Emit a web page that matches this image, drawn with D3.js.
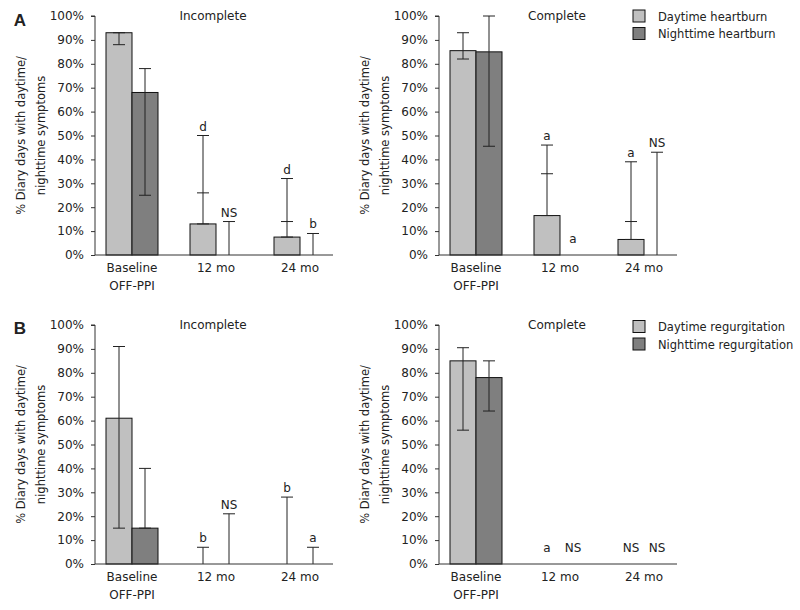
<!DOCTYPE html>
<html>
<head>
<meta charset="utf-8">
<script src="https://cdn.jsdelivr.net/npm/d3@7"></script>
<style>
  body { margin: 0; background: #fff; }
  svg text { font-family: "DejaVu Sans", sans-serif; fill: #222; }
</style>
</head>
<body>
<svg id="chart" width="800" height="610"></svg>
<script>
// ---------- data ----------
const categories = ["Baseline|OFF-PPI", "12 mo", "24 mo"];
const yTicks = [0, 10, 20, 30, 40, 50, 60, 70, 80, 90, 100];
const yTitle = ["% Diary days with daytime/", "nighttime symptoms"];

// A, Incomplete (heartburn)
const hbIncDay = [93, 13, 7.5];
const hbIncDayErr = [[88, 93], [13, 50], [7.5, 32]];
const hbIncDayMid = [null, 26, 14];
const hbIncDayMark = ["", "d", "d"];
const hbIncNight = [68, 0, 0];
const hbIncNightErr = [[25, 78], [0, 14], [0, 9]];
const hbIncNightMid = [null, null, null];
const hbIncNightMark = ["", "NS", "b"];

// A, Complete (heartburn)
const hbComDay = [85.5, 16.5, 6.5];
const hbComDayErr = [[82, 93], [16.5, 46], [6.5, 39]];
const hbComDayMid = [null, 34, 14];
const hbComDayMark = ["", "a", "a"];
const hbComNight = [85, 0, 0];
const hbComNightErr = [[45.5, 100], null, [0, 43]];
const hbComNightMid = [null, null, null];
const hbComNightMark = ["", "a", "NS"];

// B, Incomplete (regurgitation)
const rgIncDay = [61, 0, 0];
const rgIncDayErr = [[15, 91], [0, 7], [0, 28]];
const rgIncDayMid = [null, null, null];
const rgIncDayMark = ["", "b", "b"];
const rgIncNight = [15, 0, 0];
const rgIncNightErr = [[15, 40], [0, 21], [0, 7]];
const rgIncNightMid = [null, null, null];
const rgIncNightMark = ["", "NS", "a"];

// B, Complete (regurgitation)
const rgComDay = [85, 0, 0];
const rgComDayErr = [[56, 90.5], null, null];
const rgComDayMid = [null, null, null];
const rgComDayMark = ["", "a", "NS"];
const rgComNight = [78, 0, 0];
const rgComNightErr = [[64, 85], null, null];
const rgComNightMid = [null, null, null];
const rgComNightMark = ["", "NS", "NS"];

const legendA = ["Daytime heartburn", "Nighttime heartburn"];
const legendB = ["Daytime regurgitation", "Nighttime regurgitation"];
const colors = ["#c0c0c0", "#7f7f7f"];

// ---------- drawing ----------
const svg = d3.select("#chart");
const W = 238, H = 239, barW = 26;

function panel(ax, top, title, series) {
  const g = svg.append("g");
  const y = d3.scaleLinear().domain([0, 100]).range([top + H, top]);
  const x = d3.scalePoint().domain(categories).range([ax + 37, ax + 205]);

  // y axis
  const yAxis = d3.axisLeft(y).tickValues(yTicks).tickFormat(d => d + "%").tickSize(4).tickPadding(7);
  const ya = g.append("g").attr("transform", `translate(${ax},0)`).call(yAxis);
  ya.attr("font-family", null);
  ya.select(".domain").attr("stroke", "#333").attr("d", `M-4,${y(100)}H0V${y(0)}`);
  ya.selectAll(".tick line").attr("stroke", "#333");
  ya.selectAll(".tick text").style("font-size", "12px").attr("fill", "#222");

  // y title
  yTitle.forEach((t, i) => {
    g.append("text")
      .attr("transform", `translate(${ax - 70 + i * 20},${(y(0) + y(100)) / 2}) rotate(-90)`)
      .attr("text-anchor", "middle")
      .style("font-size", "11.5px")
      .text(t);
  });

  // title
  g.append("text").attr("x", ax + 118).attr("y", top + 4)
    .attr("text-anchor", "middle").style("font-size", "12px").text(title);

  // bars
  series.forEach((s, si) => {
    const off = si === 0 ? -barW / 2 : barW / 2;
    categories.forEach((c, i) => {
      const cx = x(c) + off;
      const v = s.vals[i];
      if (v > 0) {
        g.append("rect")
          .attr("x", cx - barW / 2).attr("y", y(v))
          .attr("width", barW).attr("height", y(0) - y(v))
          .attr("fill", colors[si]).attr("stroke", "#111").attr("stroke-width", 1);
      }
    });
  });

  // error bars and marks
  series.forEach((s, si) => {
    const off = si === 0 ? -barW / 2 : barW / 2;
    categories.forEach((c, i) => {
      const cx = x(c) + off;
      const e = s.err[i];
      let topY = y(0);
      if (e) {
        g.append("line").attr("x1", cx).attr("x2", cx)
          .attr("y1", y(e[0])).attr("y2", y(e[1]))
          .attr("stroke", "#222").attr("stroke-width", 1);
        [e[0], e[1]].forEach(v => {
          if (v > 0) g.append("line").attr("x1", cx - 6).attr("x2", cx + 6)
            .attr("y1", y(v)).attr("y2", y(v)).attr("stroke", "#222").attr("stroke-width", 1);
        });
        topY = y(e[1]);
      }
      if (s.mid[i] != null) {
        g.append("line").attr("x1", cx - 6).attr("x2", cx + 6)
          .attr("y1", y(s.mid[i])).attr("y2", y(s.mid[i])).attr("stroke", "#222").attr("stroke-width", 1);
      }
      if (s.mark[i]) {
        g.append("text").attr("x", cx).attr("y", e ? topY - 5 : y(0) - 12)
          .attr("text-anchor", "middle").style("font-size", "12px").text(s.mark[i]);
      }
    });
  });

  // x axis line
  g.append("line").attr("x1", ax).attr("x2", ax + W)
    .attr("y1", y(0)).attr("y2", y(0)).attr("stroke", "#333");

  // category labels
  categories.forEach(c => {
    const t = g.append("text").attr("x", x(c)).attr("y", y(0) + 17)
      .attr("text-anchor", "middle").style("font-size", "12px");
    c.split("|").forEach((ln, li) => {
      t.append("tspan").attr("x", x(c)).attr("dy", li === 0 ? 0 : 18).text(ln);
    });
  });
}

function legend(lx, ly, labels) {
  labels.forEach((l, i) => {
    svg.append("rect").attr("x", lx).attr("y", ly + i * 17.5).attr("width", 12).attr("height", 12)
      .attr("fill", colors[i]).attr("stroke", "#111");
    svg.append("text").attr("x", lx + 25).attr("y", ly + i * 17.5 + 10.5)
      .style("font-size", "11.5px").text(l);
  });
}

function mk(vals, err, mid, mark) { return { vals, err, mid, mark }; }

panel(95, 16, "Incomplete", [mk(hbIncDay, hbIncDayErr, hbIncDayMid, hbIncDayMark), mk(hbIncNight, hbIncNightErr, hbIncNightMid, hbIncNightMark)]);
panel(439, 16, "Complete", [mk(hbComDay, hbComDayErr, hbComDayMid, hbComDayMark), mk(hbComNight, hbComNightErr, hbComNightMid, hbComNightMark)]);
panel(95, 325, "Incomplete", [mk(rgIncDay, rgIncDayErr, rgIncDayMid, rgIncDayMark), mk(rgIncNight, rgIncNightErr, rgIncNightMid, rgIncNightMark)]);
panel(439, 325, "Complete", [mk(rgComDay, rgComDayErr, rgComDayMid, rgComDayMark), mk(rgComNight, rgComNightErr, rgComNightMid, rgComNightMark)]);

legend(633, 10, legendA);
legend(633, 320.5, legendB);

svg.append("text").attr("x", 20).attr("y", 26).attr("text-anchor", "middle")
  .style("font-size", "17px").style("font-weight", "bold").style("font-family", "Liberation Sans, Arial, sans-serif").text("A");
svg.append("text").attr("x", 20).attr("y", 334).attr("text-anchor", "middle")
  .style("font-size", "17px").style("font-weight", "bold").style("font-family", "Liberation Sans, Arial, sans-serif").text("B");
</script>
</body>
</html>
